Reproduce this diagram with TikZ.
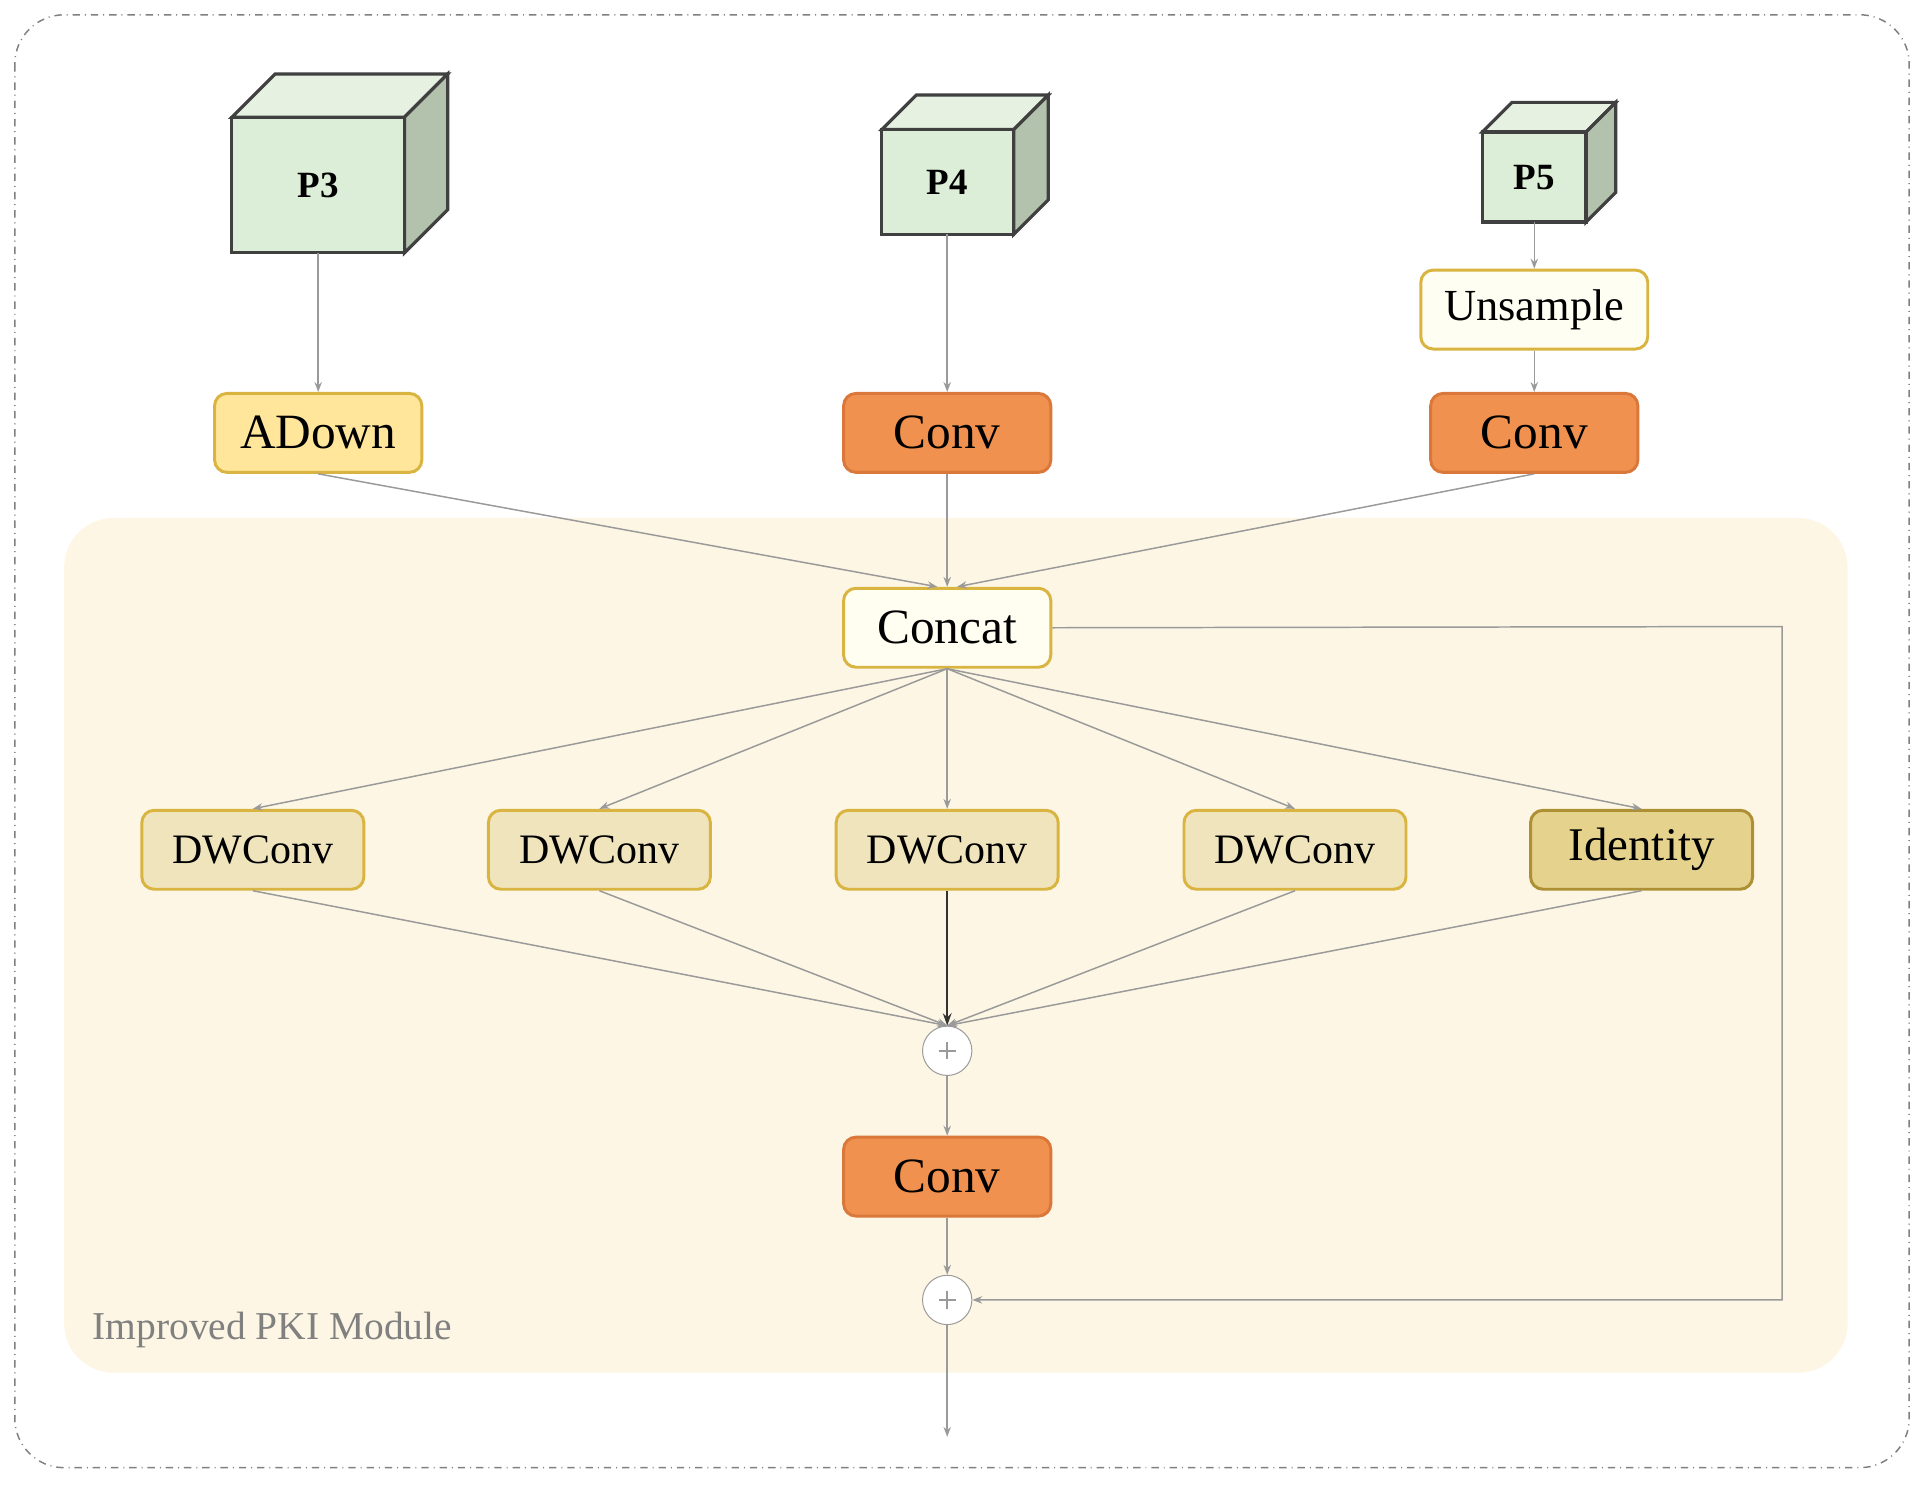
\documentclass[tikz,border=0pt]{standalone}
\usepackage{fontspec}
\setmainfont{Liberation Serif}
\usetikzlibrary{arrows.meta}
\definecolor{bgm}{HTML}{FDF6E4}
\definecolor{cubef}{HTML}{DCEDD8}
\definecolor{cubes}{HTML}{B3C2AD}
\definecolor{cubet}{HTML}{E6F1E2}
\definecolor{gold}{HTML}{D9B441}
\definecolor{adown}{HTML}{FFE69A}
\definecolor{conv}{HTML}{F0914F}
\definecolor{convb}{HTML}{D9783A}
\definecolor{dw}{HTML}{F0E4BD}
\definecolor{ident}{HTML}{E5D28C}
\definecolor{edge}{HTML}{9A9A9A}
\begin{document}
\begin{tikzpicture}[x=0.5pt,y=-0.5pt,
  box/.style={draw=gold,line width=1.2pt,rounded corners=5pt,minimum width=84pt,minimum height=32pt,inner sep=0pt,font=\fontsize{20}{22}\selectfont},
  convs/.style={box,fill=conv,draw=convb},
  dws/.style={box,fill=dw,minimum width=90pt,font=\fontsize{17}{19}\selectfont},
  plus/.style={circle,draw=edge,fill=white,minimum size=20pt,inner sep=0pt},
  e/.style={draw=edge,line width=0.6pt,-{Stealth[length=4pt,width=3pt]}},
  cube/.style={font=\bfseries\fontsize{15}{17}\selectfont}]
\useasboundingbox (0,0) rectangle (1560,1208);
\draw[gray,dash dot,line width=0.6pt,rounded corners=20pt] (12,12) rectangle (1548,1190);
\fill[bgm,rounded corners=20pt] (52,420) rectangle (1498,1113);
\node[anchor=west,text=gray,font=\fontsize{16}{18}\selectfont] (lab) at (68,1078) {Improved PKI Module};
% cubes
\foreach \nm/\xa/\ya/\xb/\yb/\d in {P3/188/95/328/205/35, P4/715/105/822/190/28, P5/1202/107/1286/180/24}{
  \draw[black!75,line width=1.3pt,fill=cubet] (\xa,\ya) -- ++(\d,-\d) -- (\xb+\d,\ya-\d) -- (\xb,\ya) -- cycle;
  \draw[black!75,line width=1.3pt,fill=cubes] (\xb,\ya) -- (\xb+\d,\ya-\d) -- (\xb+\d,\yb-\d) -- (\xb,\yb) -- cycle;
  \draw[black!75,line width=1.3pt,fill=cubef] (\xa,\ya) rectangle (\xb,\yb);
}
\node[cube,minimum width=70pt,minimum height=55pt] (P3) at (258,150) {P3};
\node[cube,minimum width=53pt,minimum height=42pt] (P4) at (768,148) {P4};
\node[cube,minimum width=42pt,minimum height=36pt] (P5) at (1244,144) {P5};
\node[box,fill=adown] (ad) at (258,351) {ADown};
\node[convs] (c4) at (768,351) {Conv};
\node[box,fill=yellow!5,minimum width=92pt,font=\fontsize{18}{20}\selectfont] (un) at (1244,251) {Unsample};
\node[convs] (c5) at (1244,351) {Conv};
\node[box,fill=white!70!yellow!20] (cc) at (768,509) {Concat};
\node[dws] (d1) at (205,689) {DWConv};
\node[dws] (d2) at (486,689) {DWConv};
\node[dws] (d3) at (768,689) {DWConv};
\node[dws] (d4) at (1050,689) {DWConv};
\node[dws,fill=ident,draw=gold!80!black,font=\fontsize{19}{21}\selectfont] (id) at (1331,689) {Identity};
\node[plus] (p1) at (768,852) {};
\draw[edge,line width=0.7pt] (p1.center)+(-7,0) -- +(7,0) (p1.center)+(0,-7) -- +(0,7);
\node[convs] (c3) at (768,954) {Conv};
\node[plus] (p2) at (768,1054) {};
\draw[edge,line width=0.7pt] (p2.center)+(-7,0) -- +(7,0) (p2.center)+(0,-7) -- +(0,7);
\coordinate (out) at (768,1165);
\coordinate (rt) at (1445,508);
\coordinate (rb) at (1445,1054);
% edges
\draw[e] (P3.south |- 0,205) -- (ad);
\draw[e] (768,190) -- (c4);
\draw[e] (1244,180) -- (un);
\draw[e] (un) -- (c5);
\draw[e] (ad.south) -- ([xshift=-4]cc.north);
\draw[e] (c4.south) -- (cc.north);
\draw[e] (c5.south) -- ([xshift=4]cc.north);
\foreach \n in {d1,d2,d3,d4,id}{\draw[e] (cc.south) -- (\n.north);}
\foreach \n in {d1,d2,d4,id}{\draw[e] (\n.south) -- (p1.north);}
\draw[line width=0.8pt,draw=black!80,-{Stealth[length=5pt,width=3.5pt]}] (d3.south) -- (p1.north);
\draw[e] (p1) -- (c3);
\draw[e] (c3) -- (p2);
\draw[e] (cc.east) -- (rt) -- (rb) -- (p2.east);
\draw[e] (p2) -- (out);
\end{tikzpicture}
\end{document}
